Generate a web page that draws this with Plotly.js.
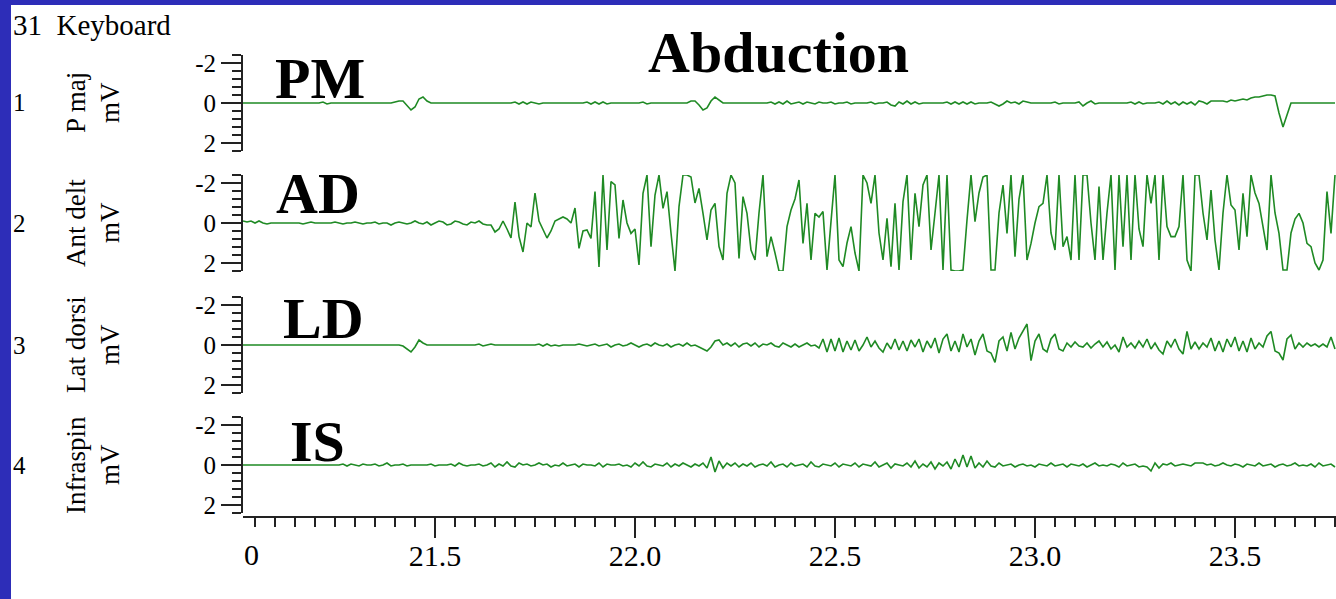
<!DOCTYPE html>
<html><head><meta charset="utf-8">
<script src="https://cdn.plot.ly/plotly-3.0.1.min.js"></script>
<style>
html,body{margin:0;padding:0;background:#2d2db8;width:1336px;height:599px;overflow:hidden}
#chart{position:absolute;left:11px;top:5px;width:1325px;height:594px;background:#fff}
</style></head><body><div id="chart"></div>
<script>
// ---- data ----
const startTime = 21.02;      // s, first sample
const sampleInterval = 0.01;  // s
const chartTitle = 'Abduction';
const headerText = '31  Keyboard';
const channelNumbers = ['1', '2', '3', '4'];
const channelNames = ['P maj', 'Ant delt', 'Lat dorsi', 'Infraspin'];
const channelUnits = ['mV', 'mV', 'mV', 'mV'];
const muscleLabels = ['PM', 'AD', 'LD', 'IS'];
const yTickValues = [-2, 0, 2];
const yTickLabels = ['-2', '0', '2'];
const xTickValues = [21.5, 22.0, 22.5, 23.0, 23.5];
const xTickLabels = ['21.5', '22.0', '22.5', '23.0', '23.5'];
const xStartLabel = '0';

const pMaj = [
 0,0,0,0,0,0,0,0,0,0,
 0,0,0,0,0,0,0,0,0,0,
 -0.05,0.05,0,0,0,0,0,0,0,0,
 0,0,0,0,0,0,0,0,-0.05,-0.1,
 -0.1,0.1,0.35,0.2,-0.2,-0.3,-0.1,0,0,0,
 0,0,0,0,0,0,0,0,0,0,
 0,0,0,0,0,0,0,0,-0.05,0.05,
 -0.05,0.05,-0.05,0,0.05,0,0,0,0,0,
 0,0,0,0,0,0,-0.05,0.05,-0.05,0.05,
 -0.05,0.05,0,0,0,0,0,0,0,0,
 -0.05,0.05,0,0,0,0,0,0,0,0,
 0,0,-0.1,-0.1,0.1,0.35,0.25,-0.1,-0.3,-0.15,
 0,0,0,0,0,0,0,0,0,0,
 0,0,-0.05,0.05,-0.05,0.05,-0.1,0.05,0,-0.05,
 0.05,-0.05,0,0.05,-0.05,0,0,-0.05,0.05,0,
 0,-0.05,0.05,0,0,0,0,-0.05,0.05,0,
 0,-0.05,0.1,0.15,-0.05,0.05,-0.1,0.05,-0.05,0.05,
 0,0,0,0,0,0,-0.05,0.05,-0.05,0.05,
 -0.05,0.05,-0.05,0.05,0,0,0,-0.05,0.05,0.15,
 0.05,-0.1,0,-0.05,0.05,-0.1,-0.05,0,0,0,
 0,0,0,-0.05,0.05,0,0,0,0,-0.05,
 0.15,0,-0.1,0.05,0,0,0,0,0,0,
 0,0,-0.05,0.05,-0.05,0.05,0,0,0,-0.05,
 0.05,-0.1,0.05,-0.05,0.1,-0.05,0.05,-0.05,0.1,-0.1,
 -0.05,0.05,-0.1,-0.1,-0.1,-0.1,-0.05,-0.15,-0.1,-0.15,
 -0.2,-0.15,-0.25,-0.3,-0.3,-0.35,-0.4,-0.4,-0.35,0.5,
 1.2,0.6,0,0,0,0,0,0,0,0,
 0,0,0,0
];

const antDelt = [
 -0.1,-0.05,-0.1,0,-0.1,0,0.05,0,0,0,
 0,0,0,0,0,0.05,0,-0.05,0,0,
 0,0,0,-0.05,0,0.05,0,0,-0.05,0,
 0.05,0,0,-0.05,0.05,0,0,0.1,0,-0.05,
 0,0.05,0,-0.1,0,0.05,-0.05,0.1,0,-0.1,
 -0.05,0.1,0.05,-0.1,-0.05,0.05,0.1,-0.05,0,-0.1,
 0.05,0.1,0.1,0.45,0.3,-0.1,0.3,0.75,-1.05,0.68,
 1.45,0,0.2,-1.5,-0.1,0.3,0.75,0.4,-0.1,-0.2,
 -0.3,-0.2,0,-0.75,1.27,0.4,0.35,0.77,-1.57,2.2,
 -2.4,1.35,-2.07,-1.9,0.77,-1.15,0,0.52,0.3,2.1,
 -1.48,-2.4,1.18,-1.4,-2.4,-0.73,-1.57,0.5,2.4,-0.82,
 -2.4,-2.4,-2.3,-1.0,-1.73,-0.48,0.85,-0.65,-0.98,1.18,
 1.85,-1.48,-2.4,-2.0,1.77,-1.32,-0.48,1.35,1.85,-0.5,
 -2.4,1.68,0.68,1.5,2.4,2.4,0.18,-0.65,-1.2,-2.15,
 1.02,-0.98,1.85,-0.48,-0.3,-0.57,2.35,-0.07,-2.4,1.85,
 2.18,1.0,0.18,1.5,2.4,-2.4,-2.0,-0.98,-2.4,0.5,
 1.85,-0.23,2.18,-0.98,2.35,-1.07,-2.4,1.85,-1.48,0.18,
 -1.9,-2.4,1.35,-0.5,-2.4,2.35,-2.4,2.35,2.4,2.4,
 2.35,-0.15,-2.4,-0.07,-1.5,-2.3,-2.4,2.35,2.35,-0.5,
 -1.9,0.52,-2.4,1.68,-1.2,-2.4,1.85,1.02,0,-0.82,
 -0.98,-2.4,0.5,1.35,-2.4,1.18,0.68,1.85,-2.4,1.85,
 -2.4,-2.4,0,1.85,-1.82,1.85,-0.5,-2.4,2.35,-2.4,
 1.18,-2.4,1.85,-2.4,0.3,1.18,-2.4,-0.98,-2.4,1.85,
 -2.4,0.18,0.68,0.68,0.18,-2.4,1.85,2.4,-2.4,-2.4,
 -0.5,0.85,-1.65,0.85,2.35,-0.5,-2.4,-0.9,-0.65,1.35,
 -1.48,0.68,-2.4,-1.5,-0.98,0.18,1.35,-2.4,-0.5,0.52,
 2.35,2.35,0.5,-0.2,-0.48,0,1.02,1.18,2.0,2.35,
 1.85,-1.57,0.52,-2.4
];

const latDorsi = [
 0,0,0,0,0,0,0,0,0,0,
 0,0,0,0,0,0,0,0,0,0,
 0,0,0,0,0,0,0,0,0,0,
 0,0,0,0,0,0,0,0,0,0,
 0.05,0.2,0.35,0.1,-0.25,-0.1,0,0,0,0,
 0,0,0,0,0,0,0,0,0,-0.05,
 0.05,0,-0.05,0,0,0,0,0,0,0,
 0,0,0,0,-0.05,0.05,-0.05,0.05,0,0.05,
 0,0,0,0,-0.05,0,0.05,0,-0.05,0.05,
 0,-0.05,0.1,0,-0.05,0.05,0,-0.1,0,0.1,
 0,-0.05,0.05,-0.1,0,0.05,-0.05,0.1,0,-0.05,
 0.05,-0.1,0.05,0,0.1,0.2,0.3,0.1,-0.2,-0.25,
 0,-0.1,0.05,-0.1,0.1,-0.05,-0.1,0.05,-0.1,0.1,
 -0.05,0,-0.1,0.05,0.1,-0.1,0,0.1,-0.05,0.1,
 0,-0.1,0.05,0,0.15,-0.3,0.35,-0.3,0.3,-0.35,
 0.35,-0.2,0.25,-0.25,0.3,0,-0.4,0.1,-0.2,0.15,
 0.35,-0.1,0.2,-0.3,0.25,-0.2,0.3,-0.25,0.1,-0.3,
 0.35,-0.2,0.15,-0.35,0.4,-0.3,-0.55,0.3,-0.2,0.35,
 -0.55,0.1,-0.3,0.5,-0.2,-0.55,0.3,0.4,0.87,-0.2,
 -0.4,0.3,-0.63,0.2,-0.35,-0.7,-1.05,0.78,-0.2,-0.55,
 0.2,0.35,-0.3,-0.55,0.2,0.3,-0.1,0.1,-0.15,0.05,
 0.1,-0.1,0.15,-0.05,-0.2,0.1,-0.15,0.2,0,0.35,
 -0.4,0.1,-0.1,0.15,-0.2,0.1,-0.3,0.2,-0.1,0.25,
 0.45,-0.2,0.1,-0.3,0.2,0.45,-0.68,0.2,-0.15,0.2,
 -0.1,0.1,-0.35,0.3,-0.2,0.35,-0.3,0.1,-0.4,0.3,
 -0.2,0.35,-0.35,0.2,-0.1,0.1,-0.45,-0.68,0.3,0.4,
 0.75,-0.3,-0.5,0.2,-0.1,0.1,-0.1,0.05,-0.05,0.1,
 -0.05,0.1,-0.4,0.2
];

const infraspin = [
 0,0,0,0,0,0,0,0,0,0,
 0,0,0,0,0,0,0,0,0,0,
 0,0,0,0,0,-0.05,0.05,-0.05,0,0.05,
 -0.05,0,0,-0.05,0.05,0,-0.1,0.05,0,0,
 -0.05,0.05,0,0,0,0,0,-0.05,0.05,0,
 0,0,-0.05,0.05,-0.1,0,0.05,0,0,-0.05,
 0.05,0,-0.1,0.1,-0.05,0.05,-0.15,0.05,0.1,-0.1,
 0,-0.05,0.05,0,-0.1,0,-0.05,0.1,0,0.05,
 -0.1,0.05,0,-0.05,0.1,-0.05,0,0,0.05,-0.1,
 0.1,-0.05,0,0,-0.05,0.05,0,0.1,-0.1,0.05,
 -0.15,0.05,0.1,-0.05,0,0.05,-0.1,0.1,-0.05,0.05,
 -0.1,0,0.1,-0.05,0.05,-0.1,0.15,-0.4,0.35,-0.2,
 0.15,-0.1,0.05,-0.1,0.1,-0.05,0.05,-0.1,0.1,0,
 -0.05,0.05,-0.15,0.1,0,-0.05,0.1,-0.1,0.05,0,
 -0.05,0.1,-0.15,0.05,0.1,-0.05,0,0.05,-0.1,0.1,
 -0.05,0,0.05,-0.1,0.1,-0.05,0,0.05,-0.15,0.1,
 0,-0.1,0.15,-0.05,0,0.05,-0.1,0.1,-0.2,0.15,
 -0.05,0.1,-0.15,0.2,-0.1,0.05,-0.15,0.2,-0.3,0.1,
 -0.5,0.1,-0.45,0.15,-0.1,0.1,-0.2,0.05,0.1,-0.1,
 0.05,0,-0.05,0.1,0,-0.05,0.05,0,0.1,-0.05,
 0,0.05,-0.1,0.05,0,-0.05,0.1,-0.05,0,0.05,
 -0.05,0.1,0,-0.1,0.05,0,0.05,-0.05,0,0.1,
 -0.1,0.05,0,-0.05,0.1,0.05,0.1,0.3,-0.1,0.15,
 -0.05,0,-0.1,0.05,0,-0.05,0,0.05,-0.1,-0.1,
 -0.1,0,-0.05,0.05,0,-0.1,0,0.05,-0.05,0,
 0.1,-0.05,0,0.05,-0.1,0.05,0,-0.05,0.1,0,
 -0.05,0.05,0,-0.1,0.05,0,0.05,-0.05,0.1,-0.1,
 0.05,0,-0.05,0.1
];

const channels = [pMaj, antDelt, latDorsi, infraspin];

// ---- layout helpers (page pixels -> paper coords) ----
const PL = 243, PR = 1336, PT = 50, PB = 517;
const px = x => (x - PL) / (PR - PL);
const py = y => (PB - y) / (PB - PT);

const serif = '"Liberation Serif", "Times New Roman", serif';
const lineColor = '#1f8a24';
const axisColor = '#222';

const bands = [[55, 151], [175, 271], [297, 393], [417, 513]];
const muscleLabelPos = [[320, 78], [318, 193], [323, 318], [317, 441]];
const rowCenters = [103, 223, 345, 465];

const traces = channels.map((vals, k) => ({
  type: 'scatter', mode: 'lines',
  x: vals.map((_, i) => startTime + i * sampleInterval),
  y: vals,
  xaxis: 'x', yaxis: k === 0 ? 'y' : 'y' + (k + 1),
  line: { color: lineColor, width: 1.6 },
  hoverinfo: 'skip', showlegend: false
}));

const layout = {
  width: 1325, height: 594,
  margin: { l: PL - 11, r: 0, t: PT - 5, b: 594 - (PB - 5) },
  paper_bgcolor: '#fff', plot_bgcolor: '#fff',
  showlegend: false,
  xaxis: {
    range: [startTime, 23.7525],
    anchor: 'free', position: 0,
    tickmode: 'array', tickvals: xTickValues, ticktext: xTickLabels,
    ticks: 'outside', ticklen: 20, tickwidth: 2, tickcolor: axisColor,
    ticklabelstandoff: -8,
    showline: true, linecolor: axisColor, linewidth: 2,
    showgrid: false, zeroline: false,
    tickfont: { family: serif, size: 30, color: '#000' },
    minor: { tickmode: 'linear', tick0: 21.5, dtick: 0.05, ticks: 'outside', ticklen: 9, tickwidth: 2, tickcolor: axisColor, showgrid: false }
  },
  annotations: [],
  shapes: []
};

bands.forEach((b, k) => {
  const name = k === 0 ? 'yaxis' : 'yaxis' + (k + 1);
  layout[name] = {
    domain: [py(b[1]), py(b[0])],
    range: [2.4, -2.4],
    anchor: 'x',
    tickmode: 'array', tickvals: yTickValues, ticktext: yTickLabels,
    ticks: 'outside', ticklen: 20, tickwidth: 2, tickcolor: axisColor,
    showline: true, linecolor: axisColor, linewidth: 2,
    showgrid: false, zeroline: false,
    tickfont: { family: serif, size: 25, color: '#000' },
    minor: { tickmode: 'linear', tick0: 0, dtick: 0.4, ticks: 'outside', ticklen: 9, tickwidth: 2, tickcolor: axisColor, showgrid: false }
  };
});

const ann = (text, x, y, size, extra) => Object.assign({
  text, xref: 'paper', yref: 'paper', x: px(x), y: py(y),
  xanchor: 'center', yanchor: 'middle', showarrow: false,
  font: { family: serif, size, color: '#000' }
}, extra || {});

layout.annotations.push(ann('<b>' + chartTitle + '</b>', 778, 52, 58));
layout.annotations.push(ann(headerText, 11, 25, 29, { xanchor: 'left' }));
layout.annotations.push(ann(xStartLabel, 251, 554, 30));
muscleLabels.forEach((m, k) => {
  layout.annotations.push(ann('<b>' + m + '</b>', muscleLabelPos[k][0], muscleLabelPos[k][1], 58));
  layout.annotations.push(ann(channelNumbers[k], 19, rowCenters[k], 25));
  layout.annotations.push(ann(channelNames[k], 76, rowCenters[k], 27, { textangle: -90 }));
  layout.annotations.push(ann(channelUnits[k], 110, rowCenters[k], 27, { textangle: -90 }));
});

Plotly.newPlot('chart', traces, layout, { staticPlot: true, displayModeBar: false });
</script></body></html>
